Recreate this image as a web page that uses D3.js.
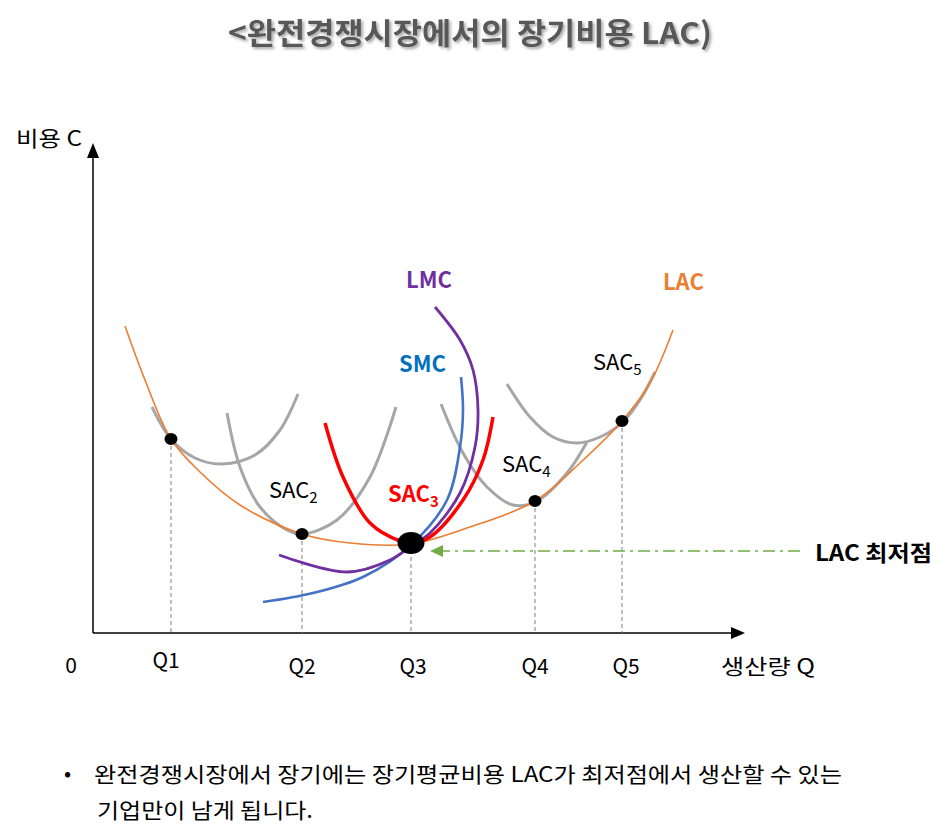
<!DOCTYPE html>
<html>
<head>
<meta charset="utf-8">
<script src="https://cdn.jsdelivr.net/npm/d3@7"></script>
<style>
  body { margin: 0; background: #fff; }
  svg { display: block; font-family: "Noto Sans CJK KR", "Noto Sans", sans-serif; }
</style>
</head>
<body>
<div id="chart"></div>
<script>
"use strict";
// values: q = output, c = cost (axis units)
const qLabels = ["Q1", "Q2", "Q3", "Q4", "Q5"];
const qValues = [78, 209, 318, 442, 529];
const dotCost = [194, 99, 90, 132, 212];

const lac = [[32, 307], [52, 253], [78, 194], [107, 161], [147, 128], [209, 99], [257, 90], [318, 89], [377, 106], [442, 132], [487, 170], [529, 212], [557, 250], [580, 303]];
const sac1 = [[59, 226], [78, 194], [102, 175], [129, 169], [162, 178], [187, 203], [205, 239]];
const sac2 = [[134, 220], [147, 166], [167, 126], [194, 103], [209, 99], [244, 113], [277, 156], [303, 226]];
const sac3 = [[232, 210], [250, 156], [277, 110], [307, 92], [318, 90], [337, 96], [370, 133], [390, 173], [400, 216]];
const sac4 = [[348, 229], [370, 180], [394, 146], [420, 128], [444, 132], [474, 160], [494, 191]];
const sac5 = [[414, 249], [437, 216], [460, 196], [484, 190], [507, 196], [530, 211], [547, 233], [562, 261]];
const smc = [[170, 31], [220, 40], [270, 56], [318, 88], [354, 133], [367, 186], [370, 223], [368, 256]];
const lmc = [[186, 78], [254, 61], [297, 73], [318, 87], [337, 100], [367, 140], [382, 186], [385, 223], [380, 263], [367, 293], [342, 326]];
const minArrow = [[707, 82], [337, 82]];

const width = 950, height = 838;
const x = d3.scaleLinear().domain([0, 650]).range([93, 743]);
const y = d3.scaleLinear().domain([0, 490]).range([633, 143]);

const svg = d3.select("#chart").append("svg")
    .attr("width", width)
    .attr("height", height);

const defs = svg.append("defs");
const shadow = defs.append("filter").attr("id", "shadow")
    .attr("x", "-10%").attr("y", "-30%").attr("width", "120%").attr("height", "160%");
shadow.append("feDropShadow").attr("dx", 2).attr("dy", 2).attr("stdDeviation", 1.5)
    .attr("flood-color", "#000").attr("flood-opacity", 0.35);

// title
svg.append("text")
    .attr("x", 228).attr("y", 44)
    .attr("font-size", 30).attr("font-weight", "bold")
    .attr("fill", "#595959")
    .attr("textLength", 484).attr("lengthAdjust", "spacingAndGlyphs")
    .attr("filter", "url(#shadow)")
    .text("<완전경쟁시장에서의 장기비용 LAC)");

// axes
const ax = svg.append("g").attr("stroke", "#000").attr("stroke-width", 1.5);
ax.append("line").attr("x1", x(0)).attr("y1", y(0)).attr("x2", x(0)).attr("y2", y(475));
ax.append("line").attr("x1", x(0)).attr("y1", y(0)).attr("x2", x(640)).attr("y2", y(0));
svg.append("path")
    .attr("d", `M${x(0)},${y(490)} L${x(0) - 6},${y(475)} L${x(0) + 6},${y(475)} Z`)
    .attr("fill", "#000");
svg.append("path")
    .attr("d", `M${x(652)},${y(0)} L${x(638)},${y(0) - 6} L${x(638)},${y(0) + 6} Z`)
    .attr("fill", "#000");

// guide lines from each point down to the axis
svg.selectAll(".guide").data(qValues).enter().append("line")
    .attr("class", "guide")
    .attr("x1", d => x(d)).attr("x2", d => x(d))
    .attr("y1", (d, i) => y(dotCost[i])).attr("y2", y(0))
    .attr("stroke", "#7f7f7f").attr("stroke-width", 1)
    .attr("stroke-dasharray", "4,3");

const line = d3.line()
    .x(d => x(d[0])).y(d => y(d[1]))
    .curve(d3.curveCatmullRom.alpha(0.5));

const curves = [
    { data: sac1, color: "#a6a6a6", w: 3 },
    { data: sac2, color: "#a6a6a6", w: 3 },
    { data: sac4, color: "#a6a6a6", w: 3 },
    { data: sac5, color: "#a6a6a6", w: 3 },
    { data: lac, color: "#ed7d31", w: 1.6 },
    { data: smc, color: "#4472c4", w: 2.6 },
    { data: lmc, color: "#7030a0", w: 2.8 },
    { data: sac3, color: "#ff0000", w: 3.5 }
];
svg.selectAll(".curve").data(curves).enter().append("path")
    .attr("class", "curve")
    .attr("d", d => line(d.data))
    .attr("fill", "none")
    .attr("stroke", d => d.color)
    .attr("stroke-width", d => d.w)
    .attr("stroke-linecap", "butt");

// green dash-dot arrow to LAC minimum
svg.append("line")
    .attr("x1", x(minArrow[0][0])).attr("y1", y(minArrow[0][1]))
    .attr("x2", x(minArrow[1][0]) + 12).attr("y2", y(minArrow[1][1]))
    .attr("stroke", "#70ad47").attr("stroke-width", 1.6)
    .attr("stroke-dasharray", "12,5,3,5");
svg.append("path")
    .attr("d", `M${x(minArrow[1][0])},${y(minArrow[1][1])} l13,-6 l0,12 Z`)
    .attr("fill", "#70ad47");

// dots
svg.selectAll(".dot").data(qValues).enter().append("ellipse")
    .attr("class", "dot")
    .attr("cx", d => x(d))
    .attr("cy", (d, i) => y(dotCost[i]))
    .attr("rx", (d, i) => i === 2 ? 13.5 : 6.5)
    .attr("ry", (d, i) => i === 2 ? 11 : 6)
    .attr("fill", "#000");

// axis labels
const lbl = svg.append("g").attr("font-size", 21).attr("fill", "#000");
lbl.append("text").attr("x", 16).attr("y", 146).attr("textLength", 66)
    .attr("lengthAdjust", "spacingAndGlyphs").text("비용 C");
lbl.append("text").attr("x", 71).attr("y", 673).attr("text-anchor", "middle").text("0");
const qDy = [668, 674, 674, 674, 674];
const qDx = [-5, 0, 2, 0, 4];
lbl.selectAll(".ql").data(qLabels).enter().append("text")
    .attr("x", (d, i) => x(qValues[i]) + qDx[i])
    .attr("y", (d, i) => qDy[i])
    .attr("text-anchor", "middle")
    .text(d => d);
lbl.append("text").attr("x", 721).attr("y", 674).attr("textLength", 94)
    .attr("lengthAdjust", "spacingAndGlyphs").text("생산량 Q");

// curve labels
function subLabel(px, py, base, sub, color, bold) {
    const t = svg.append("text").attr("x", px).attr("y", py)
        .attr("font-size", 22).attr("fill", color)
        .attr("font-weight", bold ? "bold" : "normal");
    t.append("tspan").text(base);
    t.append("tspan").attr("font-size", 15).attr("dy", 5).text(sub);
}
subLabel(269, 498, "SAC", "2", "#000", false);
subLabel(388, 502, "SAC", "3", "#ff0000", true);
subLabel(502, 472, "SAC", "4", "#000", false);
subLabel(593, 370, "SAC", "5", "#000", false);

svg.append("text").attr("x", 406).attr("y", 288)
    .attr("font-size", 22).attr("font-weight", "bold").attr("fill", "#7030a0").text("LMC");
svg.append("text").attr("x", 399).attr("y", 372)
    .attr("font-size", 22).attr("font-weight", "bold").attr("fill", "#0070c0").text("SMC");
svg.append("text").attr("x", 663).attr("y", 290)
    .attr("font-size", 22).attr("font-weight", "bold").attr("fill", "#ed7d31").text("LAC");
svg.append("text").attr("x", 815).attr("y", 561)
    .attr("font-size", 22).attr("font-weight", "bold").attr("fill", "#000")
    .attr("textLength", 117).attr("lengthAdjust", "spacingAndGlyphs").text("LAC 최저점");

// note below the chart
const note = svg.append("g").attr("font-size", 21).attr("fill", "#000");
note.append("text").attr("x", 64).attr("y", 781).text("•");
note.append("text").attr("x", 94).attr("y", 782)
    .attr("textLength", 748).attr("lengthAdjust", "spacingAndGlyphs")
    .text("완전경쟁시장에서 장기에는 장기평균비용 LAC가 최저점에서 생산할 수 있는");
note.append("text").attr("x", 97).attr("y", 818)
    .attr("textLength", 216).attr("lengthAdjust", "spacingAndGlyphs")
    .text("기업만이 남게 됩니다.");
</script>
</body>
</html>
